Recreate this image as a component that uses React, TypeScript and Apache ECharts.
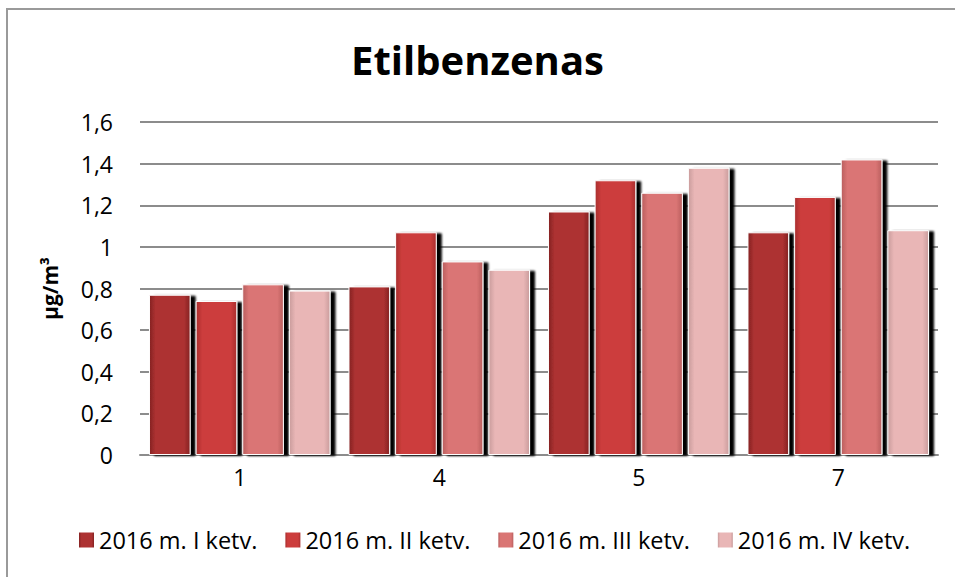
import React, { useEffect, useRef } from "react";
import * as echarts from "echarts";

const categories = ["1", "4", "5", "7"];
const seriesNames = ["2016 m. I ketv.", "2016 m. II ketv.", "2016 m. III ketv.", "2016 m. IV ketv."];
const q1Values = [0.77, 0.81, 1.17, 1.07];
const q2Values = [0.74, 1.07, 1.32, 1.24];
const q3Values = [0.82, 0.93, 1.26, 1.42];
const q4Values = [0.79, 0.89, 1.38, 1.08];
const allValues = [q1Values, q2Values, q3Values, q4Values];

const baseColors = ["#ad3232", "#cc3d3c", "#da7574", "#e9b6b6"];
const edgeColors = ["#842222", "#a82e2e", "#b95e5e", "#c99c9c"];

const FONT = "'Open Sans', 'Noto Sans', sans-serif";

function barColor(i: number) {
  return new echarts.graphic.LinearGradient(0, 0, 1, 0, [
    { offset: 0, color: edgeColors[i] },
    { offset: 0.15, color: baseColors[i] },
    { offset: 0.85, color: baseColors[i] },
    { offset: 1, color: edgeColors[i] },
  ]);
}

export default function App() {
  const ref = useRef<HTMLDivElement>(null);
  useEffect(() => {
    if (!ref.current) return;
    const chart = echarts.init(ref.current, null, { renderer: "svg" });
    chart.setOption({
      animation: false,
      backgroundColor: "#ffffff",
      textStyle: { fontFamily: FONT },
      title: {
        text: "Etilbenzenas",
        left: "center",
        top: 34,
        textStyle: { fontFamily: FONT, fontSize: 40, fontWeight: "bold", color: "#000" },
      },
      graphic: [
        {
          type: "rect",
          shape: { x: 7, y: 9, width: 1200, height: 1200 },
          style: { fill: "none", stroke: "#9a9a9a", lineWidth: 2 },
          silent: true,
        },
      ],
      legend: {
        bottom: 20,
        left: 74,
        itemWidth: 15,
        itemHeight: 15,
        itemGap: 28,
        icon: "rect",
        textStyle: { fontFamily: FONT, fontSize: 23.5, color: "#000", padding: [0, 0, 0, 0] },
        itemStyle: { borderWidth: 0, shadowBlur: 0, shadowOffsetX: 0, shadowOffsetY: 0 },
        data: seriesNames,
      },
      grid: { left: 140, right: 17, top: 122, bottom: 122 },
      xAxis: {
        type: "category",
        data: categories,
        axisLine: { show: true, lineStyle: { color: "#8c8c8c", width: 2 } },
        axisTick: { show: false },
        axisLabel: { fontFamily: FONT, fontSize: 23, color: "#000", margin: 10 },
      },
      yAxis: {
        type: "value",
        min: 0,
        max: 1.6,
        interval: 0.2,
        name: "µg/m³",
        nameLocation: "middle",
        nameRotate: 90,
        nameGap: 80,
        nameTextStyle: { fontFamily: FONT, fontSize: 21, fontWeight: "bold", color: "#000" },
        axisLine: { show: false },
        axisTick: { show: false },
        splitLine: { show: true, lineStyle: { color: "#8c8c8c", width: 2 } },
        axisLabel: {
          fontFamily: FONT,
          fontSize: 23,
          color: "#000",
          margin: 27,
          formatter: (v: number) => Number(v.toFixed(1)).toString().replace(".", ","),
        },
      },
      series: allValues.map((vals, i) => ({
        type: "bar",
        name: seriesNames[i],
        data: vals,
        barGap: "12%",
        barCategoryGap: "9%",
        itemStyle: {
          color: barColor(i),
          borderColor: "#ffffff",
          borderWidth: 1,
          shadowColor: "rgba(0,0,0,1)",
          shadowBlur: 2,
          shadowOffsetX: 5,
          shadowOffsetY: 1,
        },
      })),
    });
    return () => chart.dispose();
  }, []);
  return (
    <div
      ref={ref}
      style={{ position: "fixed", left: 0, top: 0, width: 955, height: 577 }}
    />
  );
}
